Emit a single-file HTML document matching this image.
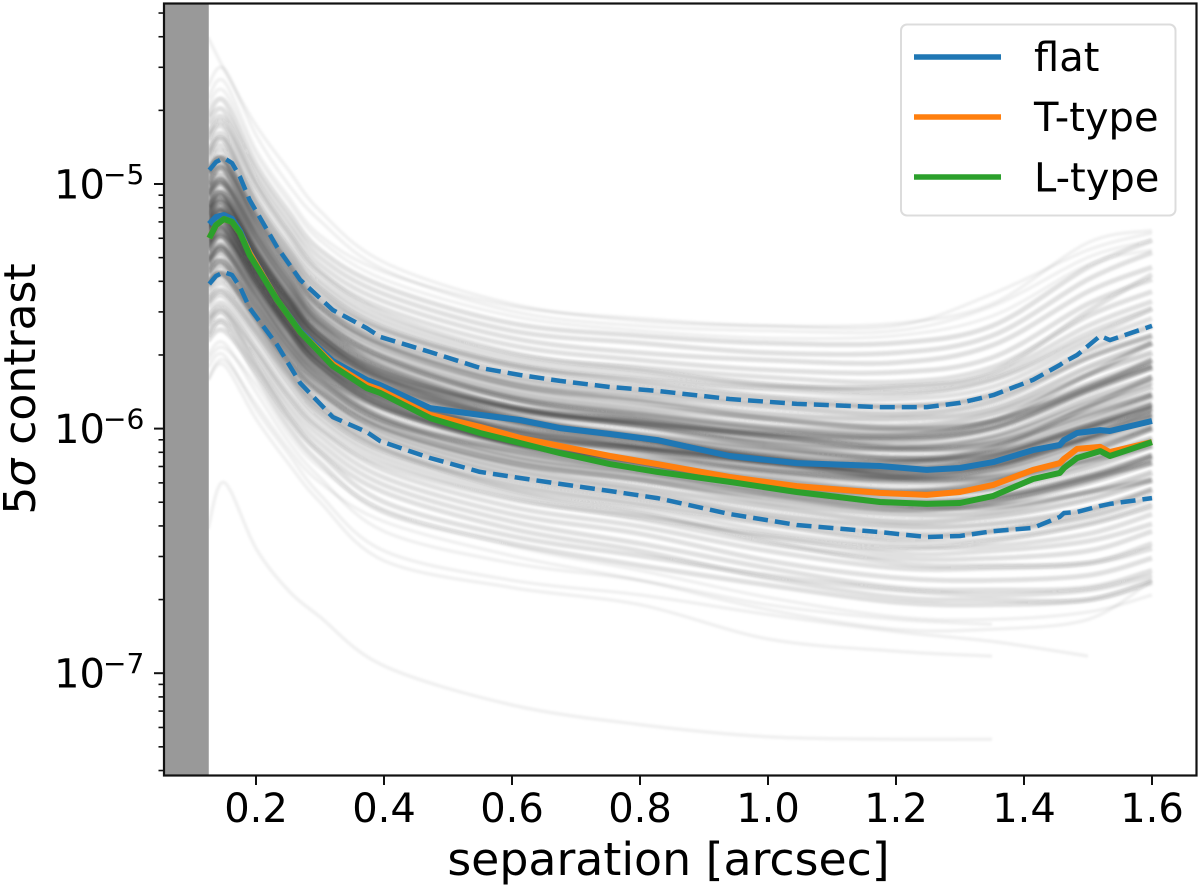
<!DOCTYPE html>
<html lang="en">
<head>
<meta charset="utf-8">
<title>5 sigma contrast curves</title>
<style>
  html, body { margin: 0; padding: 0; background: #fff; }
  body { width: 1200px; height: 888px; overflow: hidden; }
  svg { display: block; filter: blur(0.35px); }
  text { font-family: "DejaVu Sans", "Liberation Sans", sans-serif; fill: #000; }
</style>
</head>
<body>
<svg id="chart" xmlns="http://www.w3.org/2000/svg" width="1200" height="888" viewBox="0 0 1200 888">
  <rect x="0" y="0" width="1200" height="888" fill="#fff"/>
  <defs>
    <clipPath id="plot-clip"><rect x="164" y="4" width="1032" height="771"/></clipPath>
    <filter id="soft" x="-5%" y="-5%" width="110%" height="110%"><feGaussianBlur stdDeviation="1"/></filter>
  </defs>
  <g id="gray-curves" clip-path="url(#plot-clip)" filter="url(#soft)"></g>
  <rect id="iwa-band" fill="#999"/>
  <g id="hero-curves" clip-path="url(#plot-clip)"></g>
  <rect x="164" y="3.5" width="1032.5" height="772" fill="none" stroke="#111" stroke-width="2.2"/>
  <g id="x-axis"></g>
  <g id="y-axis"></g>
  <text x="668.5" y="875" font-size="45.8" text-anchor="middle">separation [arcsec]</text>
  <text transform="translate(35,389) rotate(-90)" font-size="44" text-anchor="middle">5<tspan font-style="italic">σ</tspan> contrast</text>
  <g>
    <rect x="901" y="24.5" width="274.5" height="191" rx="6" ry="6" fill="#fff" fill-opacity="0.85" stroke="#dcdcdc" stroke-width="2"/>
    <g>
      <line x1="914" y1="57" x2="1001" y2="57" stroke="#1f77b4" stroke-width="5.5"/>
      <text x="1034" y="71" font-size="40">flat</text>
    </g>
    <g>
      <line x1="914" y1="117" x2="1001" y2="117" stroke="#ff7f0e" stroke-width="5.5"/>
      <text x="1034" y="131" font-size="40">T-type</text>
    </g>
    <g>
      <line x1="914" y1="177" x2="1001" y2="177" stroke="#2ca02c" stroke-width="5.5"/>
      <text x="1034" y="191.5" font-size="40">L-type</text>
    </g>
  </g>
</svg>
<script>
// All curve values are log10(contrast).
const xTickLabels = ["0.2","0.4","0.6","0.8","1.0","1.2","1.4","1.6"];
const yTickExponents = [-5,-6,-7];
const innerWorkingAngle = 0.1262;

const heroSeparation = [0.127,0.1375,0.15,0.1625,0.175,0.19,0.233,0.269,0.32,0.373,0.394,0.472,0.55,0.6125,0.675,0.753,0.827,0.94,1.045,1.175,1.248,1.3,1.352,1.414,1.456,1.4625,1.483,1.519,1.534,1.6];
const flatMedian = [-5.164,-5.135,-5.127,-5.143,-5.192,-5.278,-5.474,-5.601,-5.724,-5.801,-5.822,-5.916,-5.944,-5.965,-5.998,-6.022,-6.047,-6.112,-6.141,-6.153,-6.169,-6.161,-6.137,-6.088,-6.067,-6.047,-6.018,-6.006,-6.01,-5.969];
const flatUpper = [-4.943,-4.91,-4.894,-4.914,-4.971,-5.065,-5.258,-5.392,-5.515,-5.589,-5.625,-5.687,-5.752,-5.781,-5.805,-5.83,-5.846,-5.879,-5.899,-5.912,-5.912,-5.895,-5.863,-5.801,-5.74,-5.728,-5.699,-5.621,-5.638,-5.58];
const flatLower = [-5.409,-5.376,-5.36,-5.372,-5.421,-5.507,-5.658,-5.814,-5.953,-6.014,-6.051,-6.12,-6.177,-6.202,-6.226,-6.255,-6.284,-6.349,-6.394,-6.423,-6.443,-6.439,-6.419,-6.406,-6.361,-6.345,-6.341,-6.316,-6.308,-6.284];
const tTypeMedian = [-5.221,-5.168,-5.143,-5.155,-5.2,-5.282,-5.474,-5.605,-5.736,-5.822,-5.842,-5.944,-5.993,-6.038,-6.071,-6.112,-6.145,-6.198,-6.235,-6.263,-6.271,-6.259,-6.23,-6.169,-6.141,-6.124,-6.083,-6.075,-6.096,-6.055];
const lTypeMedian = [-5.221,-5.168,-5.143,-5.155,-5.2,-5.29,-5.474,-5.605,-5.744,-5.834,-5.854,-5.957,-6.018,-6.059,-6.1,-6.145,-6.177,-6.218,-6.259,-6.3,-6.308,-6.304,-6.275,-6.206,-6.181,-6.161,-6.12,-6.092,-6.112,-6.055];

const graySeparation = [0.125,0.15,0.2,0.25,0.3,0.4,0.6,0.8,1.0,1.2,1.35,1.5,1.6];
const coreCurves = [
[-5.17,-5.12,-5.35,-5.52,-5.69,-5.83,-5.98,-6.07,-6.12,-6.18,-6.13,-6.03,-5.92],
[-5.19,-5.14,-5.33,-5.54,-5.67,-5.85,-6.00,-6.05,-6.14,-6.16,-6.15,-6.01,-5.94],
[-5.16,-5.11,-5.32,-5.51,-5.66,-5.82,-5.97,-6.04,-6.11,-6.14,-6.11,-5.99,-5.90],
[-5.20,-5.15,-5.36,-5.55,-5.70,-5.86,-6.01,-6.08,-6.15,-6.20,-6.17,-6.05,-5.96],
[-5.13,-5.08,-5.30,-5.49,-5.64,-5.80,-5.95,-6.02,-6.08,-6.12,-6.08,-5.95,-5.86],
[-5.23,-5.18,-5.38,-5.57,-5.72,-5.88,-6.03,-6.10,-6.18,-6.22,-6.20,-6.09,-6.00],
[-5.11,-5.06,-5.28,-5.47,-5.62,-5.78,-5.93,-5.99,-6.06,-6.09,-6.06,-5.92,-5.83],
[-5.25,-5.20,-5.40,-5.59,-5.74,-5.90,-6.05,-6.13,-6.20,-6.25,-6.22,-6.12,-6.04],
[-5.09,-5.04,-5.26,-5.45,-5.60,-5.76,-5.91,-5.97,-6.03,-6.07,-6.03,-5.88,-5.79],
[-5.27,-5.22,-5.42,-5.61,-5.76,-5.92,-6.07,-6.15,-6.23,-6.27,-6.25,-6.16,-6.07],
[-5.07,-5.01,-5.24,-5.43,-5.58,-5.74,-5.88,-5.95,-6.01,-6.04,-6.00,-5.85,-5.75],
[-5.30,-5.25,-5.44,-5.64,-5.78,-5.95,-6.09,-6.17,-6.25,-6.30,-6.28,-6.19,-6.11],
[-5.04,-4.99,-5.21,-5.40,-5.56,-5.71,-5.86,-5.93,-5.99,-6.01,-5.97,-5.82,-5.72],
[-5.32,-5.27,-5.47,-5.66,-5.80,-5.97,-6.12,-6.19,-6.27,-6.33,-6.31,-6.22,-6.14],
[-5.02,-4.97,-5.19,-5.38,-5.54,-5.69,-5.84,-5.91,-5.96,-5.99,-5.94,-5.78,-5.69],
[-5.34,-5.29,-5.49,-5.68,-5.82,-5.99,-6.14,-6.21,-6.30,-6.35,-6.34,-6.26,-6.18],
[-5.00,-4.94,-5.17,-5.36,-5.52,-5.67,-5.82,-5.88,-5.94,-5.96,-5.92,-5.75,-5.65],
[-5.36,-5.32,-5.51,-5.70,-5.84,-6.01,-6.16,-6.24,-6.32,-6.38,-6.36,-6.29,-6.21],
[-4.97,-4.92,-5.15,-5.34,-5.50,-5.65,-5.80,-5.86,-5.91,-5.94,-5.89,-5.71,-5.62],
[-5.39,-5.34,-5.53,-5.72,-5.86,-6.03,-6.18,-6.26,-6.35,-6.40,-6.39,-6.33,-6.25],
[-4.95,-4.90,-5.13,-5.32,-5.48,-5.63,-5.78,-5.84,-5.89,-5.91,-5.86,-5.68,-5.58],
[-5.41,-5.37,-5.55,-5.74,-5.89,-6.05,-6.20,-6.28,-6.37,-6.43,-6.42,-6.36,-6.28],
[-5.00,-4.94,-5.18,-5.38,-5.55,-5.71,-5.88,-5.96,-6.03,-6.08,-6.06,-5.94,-5.86],
[-5.36,-5.32,-5.50,-5.68,-5.81,-5.97,-6.09,-6.16,-6.23,-6.26,-6.22,-6.10,-6.00],
[-5.09,-5.04,-5.27,-5.46,-5.62,-5.79,-5.95,-6.04,-6.13,-6.20,-6.20,-6.13,-6.07],
[-5.27,-5.22,-5.41,-5.59,-5.74,-5.89,-6.03,-6.08,-6.13,-6.14,-6.08,-5.91,-5.79],
[-5.13,-5.08,-5.29,-5.47,-5.62,-5.77,-5.91,-5.97,-6.03,-6.05,-6.00,-5.84,-5.72],
[-5.23,-5.18,-5.39,-5.59,-5.74,-5.91,-6.06,-6.14,-6.23,-6.29,-6.28,-6.20,-6.14],
[-5.04,-4.99,-5.22,-5.42,-5.58,-5.75,-5.91,-5.99,-6.07,-6.12,-6.10,-5.99,-5.92],
[-5.32,-5.27,-5.45,-5.63,-5.77,-5.92,-6.06,-6.12,-6.17,-6.20,-6.16,-6.03,-5.94],
[-5.18,-5.12,-5.32,-5.50,-5.64,-5.79,-5.92,-5.98,-6.02,-6.03,-5.97,-5.78,-5.65],
[-5.17,-5.14,-5.36,-5.56,-5.72,-5.89,-6.06,-6.14,-6.24,-6.31,-6.32,-6.26,-6.21],
[-4.95,-4.90,-5.14,-5.33,-5.50,-5.66,-5.82,-5.89,-5.96,-6.00,-5.97,-5.84,-5.75],
[-5.41,-5.37,-5.54,-5.72,-5.85,-6.00,-6.14,-6.21,-6.28,-6.33,-6.30,-6.20,-6.11],
[-5.14,-5.10,-5.31,-5.50,-5.65,-5.81,-5.96,-6.03,-6.09,-6.13,-6.10,-5.97,-5.87],
[-5.21,-5.17,-5.37,-5.56,-5.71,-5.87,-6.02,-6.09,-6.17,-6.21,-6.18,-6.07,-5.99],
[-5.16,-5.11,-5.33,-5.52,-5.67,-5.83,-5.97,-6.05,-6.11,-6.16,-6.12,-6.00,-5.91],
[-5.19,-5.15,-5.35,-5.54,-5.69,-5.85,-6.00,-6.07,-6.14,-6.19,-6.15,-6.04,-5.95],
[-5.12,-5.07,-5.29,-5.48,-5.64,-5.80,-5.96,-6.04,-6.12,-6.18,-6.15,-6.04,-5.97],
[-5.24,-5.19,-5.39,-5.57,-5.72,-5.87,-6.01,-6.08,-6.14,-6.17,-6.12,-5.99,-5.90],
[-5.10,-5.05,-5.27,-5.46,-5.61,-5.77,-5.92,-5.98,-6.05,-6.08,-6.04,-5.90,-5.81],
[-5.26,-5.21,-5.41,-5.60,-5.75,-5.91,-6.06,-6.14,-6.21,-6.26,-6.24,-6.14,-6.05],
[-5.05,-5.00,-5.22,-5.41,-5.57,-5.72,-5.87,-5.94,-6.00,-6.03,-5.99,-5.83,-5.74],
[-5.31,-5.26,-5.46,-5.65,-5.79,-5.96,-6.11,-6.18,-6.26,-6.31,-6.29,-6.21,-6.12]
];
const outerCurves = [
[-4.93,-4.87,-5.11,-5.30,-5.45,-5.61,-5.76,-5.82,-5.87,-5.88,-5.83,-5.65,-5.55],
[-5.43,-5.39,-5.57,-5.76,-5.91,-6.07,-6.22,-6.30,-6.39,-6.46,-6.45,-6.39,-6.32],
[-4.90,-4.85,-5.09,-5.28,-5.43,-5.59,-5.74,-5.80,-5.84,-5.86,-5.80,-5.61,-5.51],
[-5.46,-5.41,-5.59,-5.78,-5.93,-6.09,-6.24,-6.32,-6.42,-6.48,-6.48,-6.43,-6.35],
[-4.88,-4.82,-5.07,-5.26,-5.41,-5.57,-5.72,-5.77,-5.82,-5.83,-5.78,-5.58,-5.48],
[-5.48,-5.44,-5.61,-5.80,-5.95,-6.11,-6.26,-6.35,-6.44,-6.51,-6.50,-6.46,-6.39],
[-4.86,-4.80,-5.05,-5.24,-5.39,-5.55,-5.70,-5.75,-5.79,-5.81,-5.75,-5.54,-5.44],
[-5.50,-5.46,-5.63,-5.82,-5.97,-6.13,-6.28,-6.37,-6.47,-6.53,-6.53,-6.50,-6.42],
[-4.82,-4.77,-5.01,-5.20,-5.36,-5.51,-5.66,-5.72,-5.76,-5.77,-5.71,-5.49,-5.39],
[-5.54,-5.49,-5.67,-5.86,-6.00,-6.17,-6.32,-6.40,-6.50,-6.57,-6.57,-6.55,-6.47],
[-4.79,-4.73,-4.98,-5.17,-5.33,-5.48,-5.63,-5.69,-5.72,-5.73,-5.66,-5.44,-5.34],
[-5.57,-5.53,-5.70,-5.89,-6.03,-6.20,-6.35,-6.43,-6.54,-6.61,-6.62,-6.60,-6.53],
[-4.75,-4.70,-4.95,-5.14,-5.30,-5.45,-5.60,-5.65,-5.69,-5.69,-5.62,-5.39,-5.28],
[-5.61,-5.56,-5.73,-5.92,-6.06,-6.23,-6.38,-6.47,-6.57,-6.65,-6.66,-6.65,-6.58],
[-4.72,-4.66,-4.92,-5.11,-5.27,-5.42,-5.57,-5.62,-5.65,-5.65,-5.58,-5.34,-5.23],
[-5.64,-5.60,-5.76,-5.95,-6.09,-6.26,-6.41,-6.50,-6.61,-6.69,-6.70,-6.70,-6.63],
[-4.88,-4.82,-5.08,-5.27,-5.43,-5.59,-5.74,-5.81,-5.87,-5.91,-5.87,-5.71,-5.62],
[-5.48,-5.44,-5.60,-5.78,-5.93,-6.09,-6.23,-6.31,-6.39,-6.45,-6.42,-6.34,-6.25],
[-4.95,-4.90,-5.12,-5.30,-5.46,-5.60,-5.74,-5.79,-5.83,-5.83,-5.77,-5.52,-5.37],
[-5.41,-5.37,-5.56,-5.76,-5.91,-6.08,-6.25,-6.34,-6.46,-6.55,-6.56,-6.55,-6.49],
[-4.81,-4.75,-5.00,-5.20,-5.36,-5.53,-5.69,-5.76,-5.82,-5.85,-5.80,-5.63,-5.51],
[-5.55,-5.51,-5.68,-5.86,-6.00,-6.15,-6.29,-6.36,-6.44,-6.49,-6.46,-6.39,-6.31],
[-5.58,-5.52,-5.74,-5.95,-6.10,-6.30,-6.44,-6.52,-6.60,-6.66,-6.68,-6.66,-6.60],
[-5.62,-5.57,-5.78,-5.99,-6.14,-6.34,-6.47,-6.56,-6.64,-6.71,-6.72,-6.70,-6.62]
];
const outlierCurves = [
[-4.40,-4.53,-4.76,-4.94,-5.11,-5.32,-5.49,-5.56,-5.58,-5.58,-5.45,-5.27,-5.20],
[-4.60,-4.53,-4.80,-5.00,-5.15,-5.35,-5.52,-5.58,-5.60,-5.60,-5.50,-5.30,-5.23],
[-4.68,-4.62,-4.88,-5.07,-5.23,-5.39,-5.54,-5.60,-5.63,-5.62,-5.54,-5.33,-5.27],
[-4.65,-4.58,-4.86,-5.05,-5.21,-5.36,-5.50,-5.55,-5.58,-5.57,-5.49,-5.24,-5.19],
[-5.72,-5.67,-5.82,-6.02,-6.16,-6.33,-6.48,-6.58,-6.69,-6.77,-6.78,-6.75,-6.68],
[-5.80,-5.72,-5.90,-6.08,-6.22,-6.38,-6.52,-6.62,-6.74,-6.82,-6.82,-6.78,-6.62],
[-5.70,-5.65,-5.85,-6.05,-6.20,-6.42,-6.55,-6.62,-6.72,-6.78,-6.80,null,null],
[-5.75,-5.70,-5.92,-6.10,-6.27,-6.50,-6.62,-6.68,-6.76,-6.83,-6.87,-6.93,null],
[-5.80,-5.74,-5.96,-6.14,-6.30,-6.54,-6.65,-6.72,-6.86,-6.91,-6.93,null,null],
[-6.41,-6.22,-6.49,-6.66,-6.77,-6.97,-7.13,-7.21,-7.26,-7.27,-7.27,null,null]
];

const NS = "http://www.w3.org/2000/svg";
const sx = s => 256 + (s - 0.2) * 640;
const sy = e => 184 + (-5 - e) * 244.6;

function roughPath(xs, ys) {
  let d = "";
  xs.forEach((x, i) => {
    if (ys[i] === null) return;
    d += (d ? "L" : "M") + sx(x).toFixed(1) + " " + sy(ys[i]).toFixed(1);
  });
  return d;
}
function smoothPath(xs, ys) {
  const pts = [];
  xs.forEach((x, i) => { if (ys[i] !== null) pts.push([sx(x), sy(ys[i])]); });
  let d = "M" + pts[0][0].toFixed(1) + " " + pts[0][1].toFixed(1);
  for (let i = 0; i < pts.length - 1; i++) {
    const p0 = pts[Math.max(0, i - 1)], p1 = pts[i], p2 = pts[i + 1], p3 = pts[Math.min(pts.length - 1, i + 2)];
    const c1x = p1[0] + (p2[0] - p0[0]) / 6, c1y = p1[1] + (p2[1] - p0[1]) / 6;
    const c2x = p2[0] - (p3[0] - p1[0]) / 6, c2y = p2[1] - (p3[1] - p1[1]) / 6;
    d += "C" + c1x.toFixed(1) + " " + c1y.toFixed(1) + " " + c2x.toFixed(1) + " " + c2y.toFixed(1) + " " + p2[0].toFixed(1) + " " + p2[1].toFixed(1);
  }
  return d;
}

const grayGroup = document.getElementById("gray-curves");
function drawGray(rows, opacity, width) {
  rows.forEach(row => {
    const p = document.createElementNS(NS, "path");
    
    
    p.setAttribute("d", smoothPath(graySeparation, row));
    p.setAttribute("fill", "none");
    p.setAttribute("stroke", "#222");
    p.setAttribute("stroke-width", width);
    p.setAttribute("stroke-opacity", opacity);
    grayGroup.appendChild(p);
  });
}
drawGray(outlierCurves, 0.06, 3.5);
drawGray(outerCurves, 0.12, 5);
drawGray(coreCurves, 0.22, 5.5);

const band = document.getElementById("iwa-band");
band.setAttribute("x", 165);
band.setAttribute("y", 4.5);
band.setAttribute("width", sx(innerWorkingAngle) - 165);
band.setAttribute("height", 770);

const heroGroup = document.getElementById("hero-curves");
function drawHero(values, color, width, dash, name) {
  const p = document.createElementNS(NS, "path");
  
  
  p.setAttribute("d", roughPath(heroSeparation, values));
  p.setAttribute("fill", "none");
  p.setAttribute("stroke", color);
  p.setAttribute("stroke-width", width);
  p.setAttribute("stroke-linejoin", "round");
  if (dash) p.setAttribute("stroke-dasharray", dash);
  heroGroup.appendChild(p);
}
drawHero(flatUpper, "#1f77b4", 4.5, "15 7", "flat-upper-dashed-line");
drawHero(flatLower, "#1f77b4", 4.5, "15 7", "flat-lower-dashed-line");
drawHero(flatMedian, "#1f77b4", 6, null, "flat-line");
drawHero(tTypeMedian, "#ff7f0e", 6, null, "t-type-line");
drawHero(lTypeMedian, "#2ca02c", 6, null, "l-type-line");

const xAxis = document.getElementById("x-axis");
xTickLabels.forEach(label => {
  const x = sx(parseFloat(label));
  const t = document.createElementNS(NS, "line");
  
  
  t.setAttribute("x1", x); t.setAttribute("x2", x);
  t.setAttribute("y1", 775); t.setAttribute("y2", 785);
  t.setAttribute("stroke", "#111"); t.setAttribute("stroke-width", 2);
  xAxis.appendChild(t);
  const l = document.createElementNS(NS, "text");
  
  
  l.setAttribute("x", x); l.setAttribute("y", 822);
  l.setAttribute("font-size", 40); l.setAttribute("text-anchor", "middle");
  l.textContent = label;
  xAxis.appendChild(l);
});

const yAxis = document.getElementById("y-axis");
yTickExponents.forEach(exp => {
  const y = sy(exp);
  const t = document.createElementNS(NS, "line");
  
  
  t.setAttribute("x1", 154); t.setAttribute("x2", 164);
  t.setAttribute("y1", y); t.setAttribute("y2", y);
  t.setAttribute("stroke", "#111"); t.setAttribute("stroke-width", 2);
  yAxis.appendChild(t);
  const base = document.createElementNS(NS, "text");
  
  
  base.setAttribute("x", 54); base.setAttribute("y", y + 14.5);
  base.setAttribute("font-size", 40);
  base.textContent = "10";
  yAxis.appendChild(base);
  const sup = document.createElementNS(NS, "text");
  
  
  sup.setAttribute("x", 103); sup.setAttribute("y", y);
  sup.setAttribute("font-size", 28);
  sup.textContent = "\u2212" + Math.abs(exp);
  yAxis.appendChild(sup);
});
for (let decade = -8; decade <= -5; decade++) {
  for (let m = 2; m <= 9; m++) {
    const y = sy(decade + Math.log10(m));
    if (y < 5 || y > 774) continue;
    const t = document.createElementNS(NS, "line");
    
    
    t.setAttribute("x1", 158.5); t.setAttribute("x2", 164);
    t.setAttribute("y1", y); t.setAttribute("y2", y);
    t.setAttribute("stroke", "#111"); t.setAttribute("stroke-width", 1.6);
    yAxis.appendChild(t);
  }
}
</script>
</body>
</html>
